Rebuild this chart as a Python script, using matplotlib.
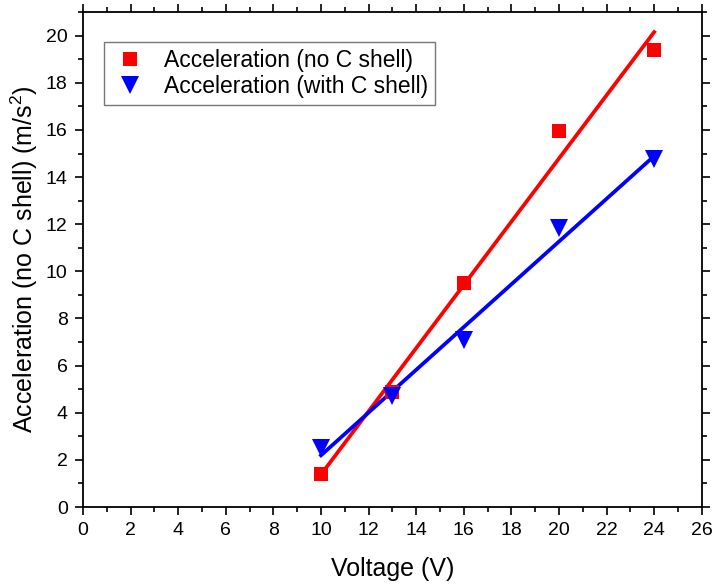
import numpy as np
import matplotlib
matplotlib.use("Agg")
import matplotlib.pyplot as plt
from matplotlib.ticker import MultipleLocator

plt.rcParams['font.family'] = ['Liberation Sans', 'DejaVu Sans']
plt.rcParams['mathtext.fontset'] = 'custom'
plt.rcParams['mathtext.rm'] = 'Liberation Sans'

voltage = [10, 13, 16, 20, 24]
acc_no_shell = [1.4, 4.9, 9.5, 15.95, 19.4]
acc_with_shell = [2.5, 4.7, 7.1, 11.85, 14.75]

fig = plt.figure(figsize=(7.12, 5.85), dpi=100)
ax = fig.add_axes([0.1166, 0.1333, 0.869, 0.846])

x = np.array(voltage, dtype=float)
for y, color, marker, ms, label in [
    (acc_no_shell, '#ff0000', 's', 10.5, 'Acceleration (no C shell)'),
    (acc_with_shell, '#0000ff', 'v', 13, 'Acceleration (with C shell)'),
]:
    p = np.polyfit(x, np.array(y), 1)
    xf = np.array([x.min(), x.max()])
    ax.plot(xf, np.polyval(p, xf), color=color, lw=2.7, zorder=2)
    ax.plot(x, y, linestyle='none', marker=marker, ms=ms, color=color,
            markeredgewidth=0, label=label, zorder=3)

ax.set_xlim(0, 26)
ax.set_ylim(0, 21)
ax.xaxis.set_major_locator(MultipleLocator(2))
ax.xaxis.set_minor_locator(MultipleLocator(1))
ax.yaxis.set_major_locator(MultipleLocator(2))
ax.yaxis.set_minor_locator(MultipleLocator(1))
ax.tick_params(which='both', direction='out', top=True, right=True,
               labeltop=False, labelright=False, width=1.2)
ax.tick_params(which='major', length=6, labelsize=14, pad=5)
ax.tick_params(which='minor', length=3.5)
for s in ax.spines.values():
    s.set_linewidth(1.3)

ax.set_xlabel('Voltage (V)', fontsize=18, labelpad=13)
ax.set_ylabel('Acceleration (no C shell) (m/s$^2$)', fontsize=18, labelpad=4)

leg = ax.legend(loc='upper left', bbox_to_anchor=(0.016, 0.963), fontsize=16.5,
                frameon=True, fancybox=False, edgecolor='#555555',
                handletextpad=0.7, borderpad=0.3, labelspacing=0.15,
                handlelength=1.6)
leg.get_frame().set_linewidth(1.0)

fig.savefig('out.png', dpi=100)
